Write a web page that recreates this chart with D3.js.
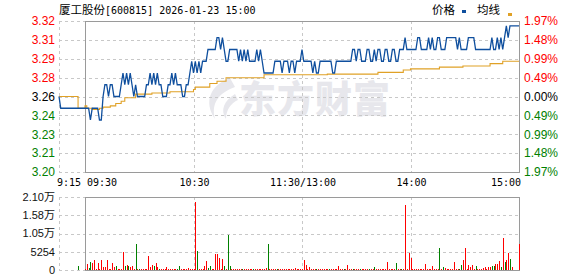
<!DOCTYPE html>
<html><head><meta charset="utf-8">
<script src="https://cdn.jsdelivr.net/npm/d3@7"></script>
<style>
html,body{margin:0;padding:0;background:#fff;}
svg{display:block;}
</style></head><body>
<svg id="c" width="578" height="276"></svg>
<script>
// ---------------- data ----------------
const stockName = "厦工股份";
const stockCode = "[600815] 2026-01-23 15:00";
const prevClose = 3.26;
const maxPct = 0.0197;
const priceTicks = ["3.32","3.31","3.29","3.28","3.26","3.24","3.23","3.21","3.20"];
const pctTicks = ["1.97%","1.48%","0.99%","0.49%","0.00%","0.49%","0.99%","1.48%","1.97%"];
const volTicks = ["2.10万","1.58万","1.05万","5254","0"];
const volMax = 21016;
const timeLabels = ["9:15","09:30","10:30","11:30/13:00","14:00","15:00"];
const timeLabelMin = [-15, 0, 60, 120, 180, 240];
const gridMin = [-15, 60, 120, 180];
const legendNames = ["价格","均线"];
// pre-market (minutes relative to 09:30)
const preMin = [-15, -14, -5, -4, -1];
const prePrice = [3.26, 3.25, 3.25, 3.25, 3.25];
const preAvg = [3.26, 3.26, 3.26, 3.25, 3.25];
const preVolMin = [-4];
const preVol = [1150];
const preVolDir = [-1];
// minute data 09:30 .. 15:00 (241 points)
const price = [
3.25,3.25,3.25,3.24,3.25,3.25,3.25,3.25,3.24,3.24,
3.26,3.27,3.27,3.26,3.27,3.27,3.26,3.26,3.26,3.26,
3.27,3.28,3.27,3.28,3.27,3.28,3.27,3.26,3.27,3.26,
3.26,3.26,3.26,3.26,3.27,3.27,3.28,3.27,3.28,3.27,
3.28,3.27,3.27,3.26,3.26,3.26,3.27,3.27,3.28,3.27,
3.28,3.27,3.27,3.27,3.26,3.26,3.27,3.27,3.28,3.29,
3.28,3.29,3.28,3.29,3.28,3.29,3.29,3.29,3.30,3.30,
3.30,3.30,3.30,3.31,3.31,3.30,3.31,3.30,3.29,3.29,
3.30,3.30,3.30,3.30,3.30,3.29,3.30,3.29,3.30,3.29,
3.30,3.29,3.29,3.29,3.29,3.30,3.29,3.30,3.29,3.28,
3.28,3.28,3.28,3.28,3.28,3.29,3.29,3.29,3.29,3.28,
3.29,3.29,3.29,3.28,3.29,3.29,3.28,3.29,3.29,3.29,
3.30,3.29,3.29,3.29,3.29,3.29,3.28,3.29,3.28,3.28,
3.29,3.29,3.29,3.29,3.29,3.29,3.29,3.28,3.28,3.29,
3.29,3.29,3.29,3.29,3.29,3.29,3.29,3.29,3.30,3.30,
3.29,3.30,3.30,3.29,3.29,3.29,3.30,3.30,3.29,3.29,
3.30,3.29,3.30,3.30,3.29,3.29,3.30,3.30,3.29,3.29,
3.30,3.30,3.29,3.29,3.30,3.30,3.30,3.31,3.30,3.30,
3.30,3.30,3.30,3.30,3.31,3.31,3.30,3.30,3.30,3.30,
3.31,3.30,3.31,3.30,3.30,3.31,3.31,3.30,3.30,3.30,
3.31,3.31,3.31,3.31,3.31,3.31,3.30,3.31,3.30,3.30,
3.30,3.30,3.31,3.31,3.31,3.31,3.30,3.30,3.30,3.30,
3.30,3.30,3.30,3.30,3.30,3.31,3.30,3.30,3.31,3.30,
3.31,3.30,3.31,3.32,3.31,3.32,3.32,3.32,3.32,3.32,
3.32];
const avg = [
3.252,3.250,3.250,3.250,3.249,3.249,3.249,3.249,3.250,3.250,
3.251,3.251,3.251,3.251,3.252,3.252,3.252,3.254,3.254,3.254,
3.256,3.256,3.259,3.259,3.259,3.259,3.259,3.259,3.262,3.262,
3.262,3.262,3.262,3.262,3.262,3.262,3.262,3.263,3.263,3.263,
3.263,3.263,3.263,3.263,3.263,3.263,3.263,3.264,3.264,3.264,
3.264,3.264,3.264,3.264,3.264,3.264,3.264,3.264,3.264,3.264,
3.266,3.268,3.268,3.268,3.268,3.268,3.268,3.268,3.268,3.271,
3.271,3.271,3.271,3.273,3.273,3.273,3.273,3.273,3.276,3.276,
3.276,3.276,3.276,3.276,3.276,3.276,3.276,3.276,3.276,3.276,
3.276,3.276,3.276,3.276,3.276,3.276,3.276,3.276,3.276,3.2785,
3.2785,3.2785,3.2785,3.2785,3.2785,3.2785,3.2785,3.2785,3.2785,3.2785,
3.2785,3.2785,3.2785,3.2785,3.2785,3.2785,3.2785,3.2785,3.2785,3.2785,
3.2785,3.2785,3.2785,3.2785,3.2785,3.2785,3.2785,3.2785,3.2785,3.2785,
3.2785,3.2785,3.2785,3.2785,3.279,3.279,3.279,3.279,3.279,3.279,
3.279,3.279,3.279,3.279,3.279,3.279,3.279,3.279,3.279,3.279,
3.279,3.279,3.279,3.279,3.279,3.279,3.279,3.279,3.279,3.279,
3.279,3.279,3.2805,3.2805,3.2805,3.2805,3.2805,3.2805,3.2805,3.2805,
3.2805,3.2805,3.2805,3.2805,3.2805,3.2805,3.2825,3.2825,3.2825,3.2825,
3.2835,3.2835,3.2835,3.2835,3.2835,3.2835,3.2835,3.2835,3.2835,3.2835,
3.2835,3.2835,3.2835,3.2835,3.2835,3.2835,3.285,3.285,3.285,3.285,
3.285,3.285,3.285,3.285,3.285,3.285,3.285,3.285,3.285,3.286,
3.286,3.286,3.286,3.286,3.286,3.286,3.286,3.286,3.286,3.286,
3.286,3.286,3.286,3.286,3.288,3.288,3.288,3.288,3.288,3.288,
3.288,3.290,3.290,3.290,3.290,3.290,3.290,3.290,3.290,3.290,
3.290];
const vol = [
300,1720,670,2290,2100,2870,380,1910,300,2870,
950,950,2870,300,300,1910,950,1150,300,300,
300,5160,1150,1340,1150,950,1150,300,7450,300,
300,300,300,300,300,4010,760,1340,1150,1910,
760,300,300,300,300,760,300,300,300,300,
300,300,1150,300,300,300,300,500,300,300,
300,19500,5540,300,300,300,1150,2680,600,1150,
300,300,4590,4590,3440,300,3250,1150,300,10030,
1150,300,380,300,300,300,300,300,300,300,
300,300,300,300,300,300,300,300,300,300,
600,7450,300,300,300,300,300,300,300,300,
300,300,300,300,300,300,600,300,300,300,
300,2870,1440,300,760,300,300,300,300,300,
300,300,300,300,300,300,300,300,300,300,
1150,300,300,300,300,1440,300,300,300,300,
300,300,300,300,300,300,300,300,300,300,
860,300,300,300,300,300,300,2290,300,300,
300,300,2000,300,300,300,300,18640,300,4870,
3440,300,300,300,300,300,300,300,1720,300,
300,300,1150,300,300,300,6300,300,950,570,
300,300,300,300,2290,300,300,300,1440,2870,
6300,300,1440,950,1440,300,1050,300,300,300,
570,760,300,950,760,1150,1150,1720,1720,2680,
760,9170,2390,2960,4970,3060,950,0,0,0,
7450];
const volDir = [
1,1,-1,-1,1,1,1,1,1,1,
1,1,1,1,1,1,1,-1,1,1,
1,1,-1,1,-1,1,1,1,-1,1,
-1,1,1,1,1,1,1,1,-1,1,
1,-1,1,1,1,1,1,1,1,1,
1,-1,-1,1,1,1,1,1,1,1,
1,1,-1,1,1,1,1,1,-1,-1,
1,1,1,1,1,1,1,-1,1,-1,
-1,1,1,1,1,1,1,-1,1,1,
1,1,1,-1,1,1,1,1,1,1,
1,-1,1,1,1,1,-1,1,1,1,
1,1,1,1,1,1,1,1,1,1,
1,1,1,1,1,1,1,1,-1,1,
1,1,1,1,1,-1,1,1,1,1,
1,1,1,-1,1,1,1,1,-1,1,
1,1,-1,1,1,1,1,-1,1,1,
-1,1,1,1,1,1,1,1,1,1,
1,1,-1,1,1,-1,1,1,1,1,
1,1,1,1,1,1,1,1,1,1,
1,1,1,1,1,1,-1,1,-1,1,
1,1,1,1,1,1,1,-1,-1,1,
1,1,1,1,1,1,-1,1,1,1,
1,1,1,1,1,-1,-1,1,1,1,
-1,1,-1,1,1,-1,1,1,1,1,
1];

// ---------------- drawing ----------------
const RED = "#ff0000", GREEN = "#008000", BLUE = "#0f4f9e", ORANGE = "#e0a126";
const GRID = "#c8c8c8", BORDER = "#9a9a9a";
const svg = d3.select("#c");
const L = 85, R = 519, T = 21, B = 172, VT = 197, VB = 270, PRE = 59;

const x = d3.scaleLinear().domain([-15, 0, 240]).range([PRE, L, R]);
const y = d3.scaleLinear().domain([prevClose*(1-maxPct), prevClose*(1+maxPct)]).range([B, T]);
const yv = d3.scaleLinear().domain([0, volMax]).range([VB, VT]);
const yTickScale = d3.scaleLinear().domain([0, priceTicks.length-1]).range([T, B]);
const vTickScale = d3.scaleLinear().domain([0, volTicks.length-1]).range([VT, VB]);

// watermark
const wm = svg.append("g").attr("fill", "#e7e7ec");
wm.append("path").attr("d", "M230,78 C211,85 203,101 215,119 C211,104 218,93 235,87 Z M235,94 C224,101 220,110 226,119 C226,110 231,103 238,100 Z");
wm.append("text").attr("x", 239).attr("y", 113)
  .style("font-family", "'Noto Sans CJK SC'").style("font-weight", 900).style("font-size", "37px")
  .style("letter-spacing", "1px").text("东方财富");

// grid lines main
const gMain = svg.append("g");
gMain.selectAll("line.h").data(priceTicks).join("line")
  .attr("x1", PRE).attr("x2", R).attr("y1", (d,i)=>Math.round(yTickScale(i))+0.5).attr("y2", (d,i)=>Math.round(yTickScale(i))+0.5)
  .attr("stroke", GRID).attr("stroke-dasharray", "3,3");
gMain.selectAll("line.v").data(gridMin).join("line")
  .attr("x1", d=>Math.round(x(d))+0.5).attr("x2", d=>Math.round(x(d))+0.5).attr("y1", T).attr("y2", B)
  .attr("stroke", GRID).attr("stroke-dasharray", "3,3");
// grid lines volume
const gVol = svg.append("g");
gVol.selectAll("line.h").data(volTicks).join("line")
  .attr("x1", PRE).attr("x2", R).attr("y1", (d,i)=>Math.round(vTickScale(i))+0.5).attr("y2", (d,i)=>Math.round(vTickScale(i))+0.5)
  .attr("stroke", GRID).attr("stroke-dasharray", "3,3");
gVol.selectAll("line.v").data(gridMin).join("line")
  .attr("x1", d=>Math.round(x(d))+0.5).attr("x2", d=>Math.round(x(d))+0.5).attr("y1", VT).attr("y2", VB)
  .attr("stroke", GRID).attr("stroke-dasharray", "3,3");

// borders
svg.append("rect").attr("x", L+0.5).attr("y", T+0.5).attr("width", R-L).attr("height", B-T)
  .attr("fill", "none").attr("stroke", BORDER);
svg.append("rect").attr("x", L+0.5).attr("y", VT+0.5).attr("width", R-L).attr("height", VB-VT)
  .attr("fill", "none").attr("stroke", BORDER);

// volume bars
const volData = preVolMin.map((m,i)=>({m, v:preVol[i], d:preVolDir[i]}))
  .concat(vol.map((v,i)=>({m:i, v, d:volDir[i]})));
svg.append("g").attr("shape-rendering", "crispEdges").selectAll("rect").data(volData.filter(d=>d.v>0)).join("rect")
  .attr("x", d=>Math.round(x(d.m)))
  .attr("width", 1)
  .attr("y", d=>Math.min(yv(d.v), VB-1))
  .attr("height", d=>Math.max(1, VB - yv(d.v)))
  .attr("fill", d=>d.d>0 ? RED : GREEN);

// lines
const pts = preMin.map((m,i)=>({m, p:prePrice[i], a:preAvg[i]}))
  .concat(price.map((p,i)=>({m:i, p, a:avg[i]})));
const lineP = d3.line().x(d=>x(d.m)).y(d=>y(d.p));
const lineA = d3.line().x(d=>x(d.m)).y(d=>y(d.a)).curve(d3.curveStepAfter);
svg.append("path").datum(pts).attr("d", lineA).attr("fill", "none").attr("stroke", ORANGE).attr("stroke-width", 1.1);
svg.append("path").datum(pts).attr("d", lineP).attr("fill", "none").attr("stroke", BLUE).attr("stroke-width", 1.3).attr("stroke-linejoin", "miter");

// axis labels
const sans = "'Liberation Sans', Arial, sans-serif";
const colorFor = i => i < 4 ? RED : (i === 4 ? "#000" : GREEN);
svg.append("g").selectAll("text").data(priceTicks).join("text")
  .attr("x", 55).attr("y", (d,i)=>yTickScale(i)).attr("dy", "0.36em").attr("text-anchor", "end")
  .style("font-family", sans).style("font-size", "12px").attr("fill", (d,i)=>colorFor(i)).text(d=>d);
svg.append("g").selectAll("text").data(pctTicks).join("text")
  .attr("x", 524).attr("y", (d,i)=>yTickScale(i)).attr("dy", "0.36em").attr("text-anchor", "start")
  .style("font-family", sans).style("font-size", "12px").attr("fill", (d,i)=>colorFor(i)).text(d=>d);
svg.append("g").selectAll("text").data(volTicks).join("text")
  .attr("x", 55).attr("y", (d,i)=>vTickScale(i)).attr("dy", "0.36em").attr("text-anchor", "end")
  .style("font-family", sans + ", 'Noto Sans CJK SC'").style("font-size", "11px").attr("fill", "#111").text(d=>d);

// time labels
const mono = "'DejaVu Sans Mono', monospace";
svg.append("g").selectAll("text").data(timeLabels).join("text")
  .attr("x", (d,i)=> i===0 ? x(timeLabelMin[i]) - 2 : (i===1 ? x(timeLabelMin[i]) + 2 : (i===5 ? x(timeLabelMin[i]) + 2 : x(timeLabelMin[i]) + 1)))
  .attr("y", 186)
  .attr("text-anchor", (d,i)=> i<2 ? "start" : (i===5 ? "end" : "middle"))
  .style("font-family", mono).style("font-size", "10px").attr("fill", "#000").text(d=>d);

// title
const t = svg.append("text").attr("x", 59).attr("y", 14).attr("fill", "#000");
t.append("tspan").style("font-family", "'Noto Sans CJK SC'").style("font-size", "11.5px").text(stockName);
t.append("tspan").style("font-family", mono).style("font-size", "10px").text(stockCode);

// legend
const lg = svg.append("g");
lg.append("text").attr("x", 432).attr("y", 14).style("font-family", "'Noto Sans CJK SC'").style("font-size", "11.5px").attr("fill", "#000").text(legendNames[0]);
lg.append("rect").attr("x", 462).attr("y", 10).attr("width", 4).attr("height", 3).attr("fill", BLUE);
lg.append("text").attr("x", 477).attr("y", 14).style("font-family", "'Noto Sans CJK SC'").style("font-size", "11.5px").attr("fill", "#000").text(legendNames[1]);
lg.append("rect").attr("x", 508).attr("y", 13).attr("width", 4).attr("height", 3).attr("fill", ORANGE);
</script>
</body></html>
